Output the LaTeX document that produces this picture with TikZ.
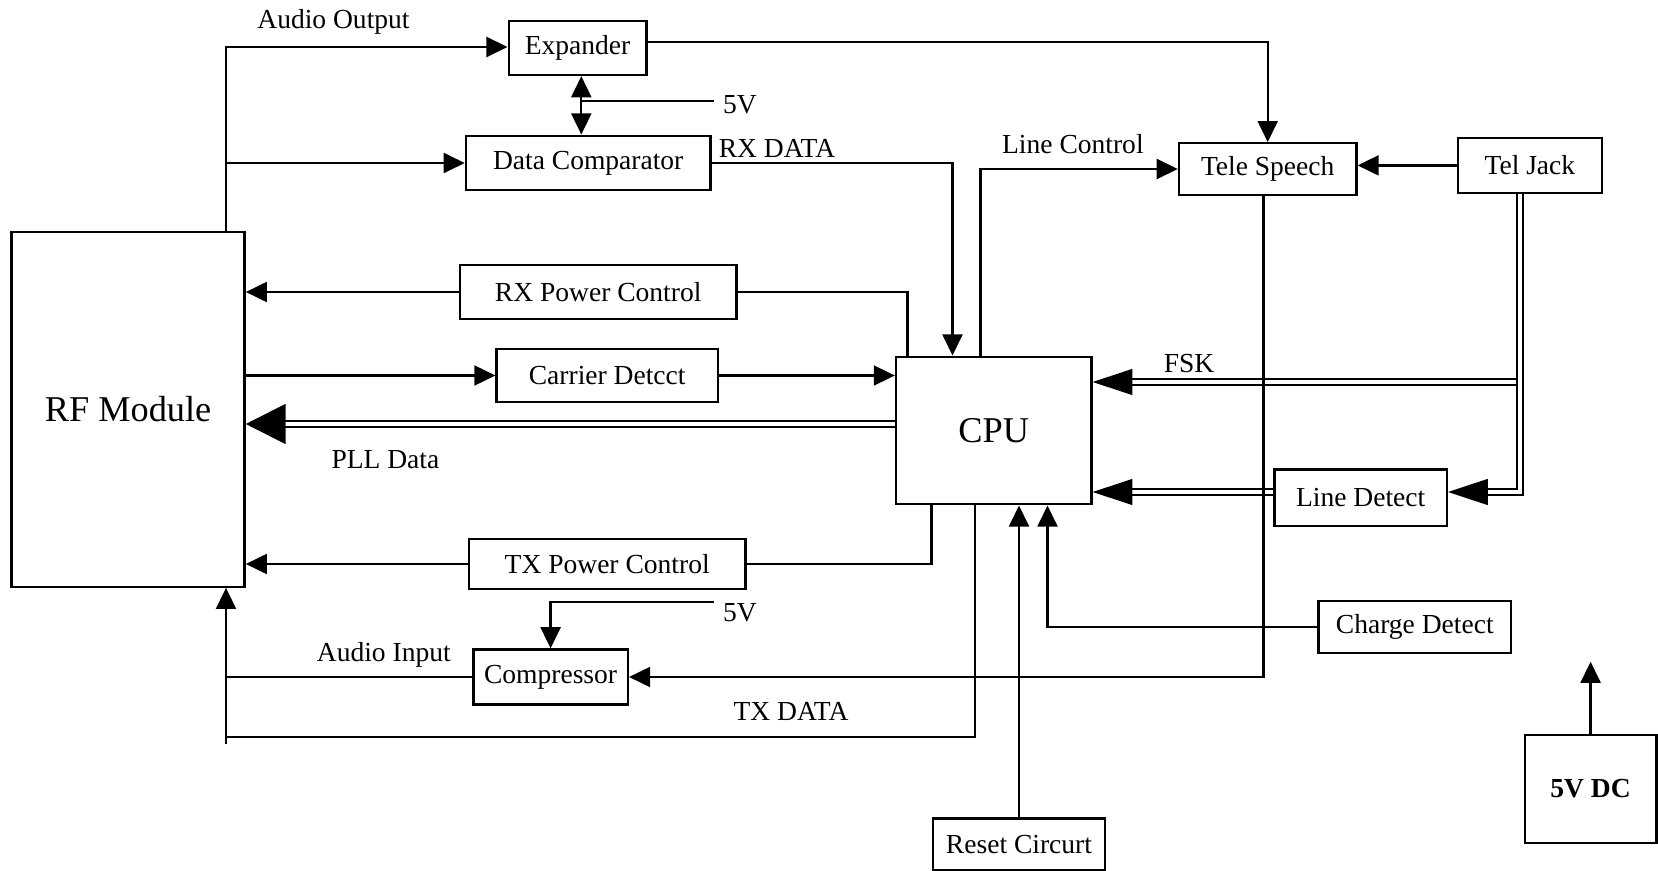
\documentclass[tikz,border=0pt]{standalone}
\usepackage{fontspec}
\setmainfont{Liberation Serif}
\usetikzlibrary{arrows.meta}
\usetikzlibrary{math}
\tikzset{blk/.style={draw=black, line width=1pt, inner sep=2pt, font=\fontsize{11.75}{14}\selectfont},
	lbl/.style={font=\fontsize{11.75}{14}\selectfont},
	arr/.style={-{Triangle[length=9pt,width=8.5pt]}},
	bigarr/.style={-{Triangle[length=17pt,width=11pt]}},
	dbl/.style={double, line width=0.8pt, double distance=1.6pt}}

\begin{document}
\begin{tikzpicture}[x=0.015cm,y=-0.015cm,line width=1pt]
	\useasboundingbox (0,0) rectangle (1658,871);
	\tikzmath{\xa=226; \xrd=952.5; \xrp=907.6; \xlc=980.5; \xtp=931.4; \xtd=975.2; \xch=1047.5; \xts=1263.5; \xjk=1520;
	\yld=492; \ypl=424; \yfs=382; \ytd=737; \yvb=602;}
	% blocks
	\node[blk, minimum width=3.495cm, minimum height=5.316cm, font=\fontsize{15.5}{18}\selectfont] (rf) at (128.1,409.5) {RF Module};
	\node[blk, minimum width=2.066cm, minimum height=0.81cm] (exp) at (577.6,48) {Expander};
	\node[blk, minimum width=3.668cm, minimum height=0.819cm] (dcmp) at (588.2,163) {Data Comparator};
	\node[blk, minimum width=4.146cm, minimum height=0.81cm] (rxpc) at (598.2,292) {RX Power Control};
	\node[blk, minimum width=3.318cm, minimum height=0.786cm] (cdet) at (607.2,375.5) {Carrier Detcct};
	\node[blk, minimum width=2.93cm, minimum height=2.214cm, font=\fontsize{15.5}{18}\selectfont] (cpu) at (993.7,430.5) {CPU};
	\node[blk, minimum width=2.661cm, minimum height=0.771cm] (tele) at (1267.7,169) {Tele Speech};
	\node[blk, minimum width=2.162cm, minimum height=0.82cm] (jack) at (1529.9,165.4) {Tel Jack};
	\node[blk, minimum width=2.582cm, minimum height=0.85cm] (ldet) at (1360.7,497.7) {Line Detect};
	\node[blk, minimum width=4.146cm, minimum height=0.75cm] (txpc) at (607.2,564) {TX Power Control};
	\node[blk, minimum width=2.318cm, minimum height=0.825cm] (comp) at (550.6,677) {Compressor};
	\node[blk, minimum width=2.89cm, minimum height=0.776cm] (chg) at (1414.8,626.9) {Charge Detect};
	\node[blk, minimum width=2.58cm, minimum height=0.776cm] (rst) at (1019,844.2) {Reset Circurt};
	\node[blk, minimum width=1.973cm, minimum height=1.616cm, font=\fontsize{11.75}{14}\selectfont\bfseries] (dc) at (1590.6,788.9) {5V DC};
	% labels
	\node[lbl] (aoutl) at (333.5,21.7) {Audio Output};
	\node[lbl] (fva) at (740,105) {5V};
	\node[lbl] (rxdl) at (777,148) {RX DATA};
	\node[lbl] (lctl) at (1072.9,144.3) {Line Control};
	\node[lbl] (fskl) at (1189,363.3) {FSK};
	\node[lbl] (plll) at (385.4,460) {PLL Data};
	\node[lbl] (fvb) at (740,612.7) {5V};
	\node[lbl] (ainl) at (383.8,655) {Audio Input};
	\node[lbl] (txdl) at (791,711.7) {TX DATA};
	% columns and rows
	\coordinate (aout) at (\xa,47);
	\coordinate (abot) at (\xa,744);
	\coordinate (crd) at (\xrd,0);
	\coordinate (crp) at (\xrp,0);
	\coordinate (clc) at (\xlc,0);
	\coordinate (ctp) at (\xtp,0);
	\coordinate (ctd) at (\xtd,\ytd);
	\coordinate (cch) at (\xch,0);
	\coordinate (cts) at (\xts,0);
	\coordinate (cjk) at (\xjk,0);
	\coordinate (cld) at (0,\yld);
	\coordinate (cpl) at (0,\ypl);
	\coordinate (cfs) at (0,\yfs);
	\coordinate (eo) at (0,42);
	\coordinate (v5a) at (581.3,101);
	\coordinate (v5b) at (550.6,\yvb);
	\coordinate (dcup) at (1590.6,661.7);
	% double lines
	\draw[dbl, -{Triangle[length=17pt,width=17pt]}] (cpu.west |- cpl) -- (rf.east |- cpl);
	\draw[dbl, bigarr] (cjk |- cfs) -- (cpu.east |- cfs);
	\draw[dbl, bigarr] (jack.south -| cjk) |- (ldet.east |- cld);
	\draw[dbl, bigarr] (ldet.west |- cld) -- (cpu.east |- cld);
	% single lines
	\draw[arr] (rf.north -| aout) -- (aout) -- (exp.west |- aout);
	\draw[arr] (aout |- dcmp.west) -- (dcmp.west);
	\draw[{Triangle[length=9pt,width=8.5pt]}-{Triangle[length=9pt,width=8.5pt]}] (exp.south -| v5a) -- (dcmp.north -| v5a);
	\draw (v5a) -- (v5a -| fva.west);
	\draw[arr] (dcmp.east) -| (cpu.north -| crd);
	\draw[arr] (exp.east |- eo) -| (tele.north);
	\draw[arr] (cpu.north -| clc) |- (tele.west);
	\draw[arr] (jack.west) -- (tele.east |- jack.west);
	\draw[arr] (rxpc.west) -- (rf.east |- rxpc.west);
	\draw (rxpc.east) -| (cpu.north -| crp);
	\draw[arr] (rf.east |- cdet.west) -- (cdet.west);
	\draw[arr] (cdet.east) -- (cpu.west |- cdet.east);
	\draw[arr] (txpc.west) -- (rf.east |- txpc.west);
	\draw (cpu.south -| ctp) |- (txpc.east);
	\draw[arr] (tele.south -| cts) |- (comp.east);
	\draw (comp.west) -- (aout |- comp.west);
	\draw[arr] (abot) -- (rf.south -| abot);
	\draw (cpu.south -| ctd) -- (ctd) -- (aout |- ctd);
	\draw[arr] (v5b -| fvb.west) -- (v5b) -- (comp.north);
	\draw[arr] (rst.north) -- (cpu.south -| rst.north);
	\draw[arr] (chg.west) -| (cpu.south -| cch);
	\draw[arr] (dc.north) -- (dcup);
\end{tikzpicture}
\end{document}
